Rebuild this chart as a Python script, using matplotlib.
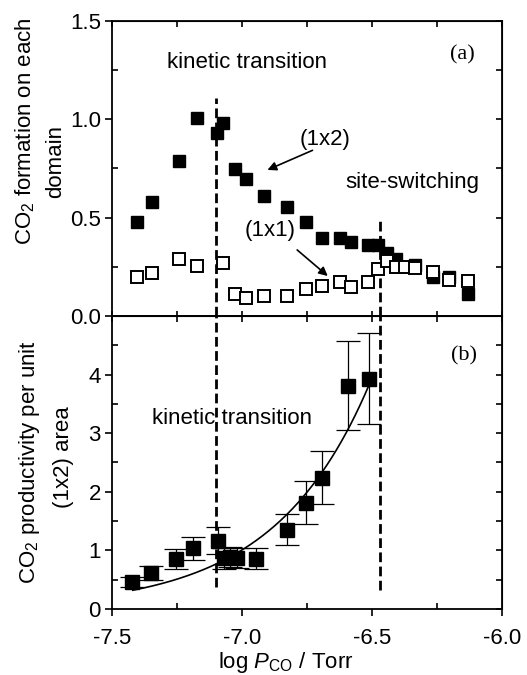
import numpy as np
import matplotlib
matplotlib.use("Agg")
import matplotlib.pyplot as plt

plt.rcParams['font.family'] = ['Liberation Sans', 'DejaVu Sans']
plt.rcParams['mathtext.fontset'] = 'custom'
plt.rcParams['mathtext.rm'] = 'Liberation Sans'
plt.rcParams['mathtext.it'] = 'Liberation Sans:italic'
plt.rcParams['font.size'] = 16
plt.rcParams['axes.unicode_minus'] = False

# panel (a): CO2 formation on each domain
log_p_a = [-7.403, -7.347, -7.242, -7.174, -7.095, -7.074, -7.027, -6.985, -6.914, -6.828, -6.754,
           -6.692, -6.623, -6.581, -6.514, -6.476, -6.443, -6.408, -6.335, -6.264, -6.203, -6.130]
form_1x2 = [0.48, 0.58, 0.79, 1.005, 0.93, 0.98, 0.747, 0.697, 0.61, 0.553, 0.48,
            0.398, 0.398, 0.375, 0.361, 0.361, 0.32, 0.288, 0.26, 0.20, 0.197, 0.11]
log_p_a_open = [-7.403, -7.347, -7.242, -7.174, -7.074, -7.027, -6.985, -6.914, -6.828, -6.754, -6.692,
                -6.623, -6.581, -6.514, -6.476, -6.443, -6.408, -6.373, -6.335, -6.264, -6.203, -6.130]
form_1x1 = [0.20, 0.22, 0.288, 0.256, 0.268, 0.11, 0.093, 0.10, 0.10, 0.139, 0.154,
            0.174, 0.146, 0.174, 0.239, 0.28, 0.25, 0.25, 0.243, 0.225, 0.183, 0.178]

# panel (b): CO2 productivity per unit (1x2) area
log_p_b = [-7.424, -7.351, -7.255, -7.190, -7.091, -7.068, -7.046, -7.018, -6.946,
           -6.826, -6.754, -6.693, -6.593, -6.512]
prod = [0.465, 0.607, 0.846, 1.033, 1.163, 0.862, 0.88, 0.87, 0.86,
        1.356, 1.816, 2.24, 3.81, 3.93]
prod_err = [0.085, 0.12, 0.17, 0.20, 0.23, 0.18, 0.17, 0.17, 0.18,
            0.27, 0.37, 0.45, 0.76, 0.78]

# exponential fit drawn in (b): y = fit_a * exp(fit_b * (x - fit_x0))
fit_x0, fit_a, fit_b = -7.42, 0.32, 2.73
fit_range = (-7.42, -6.51)

kinetic_x = -7.1
switch_x = -6.47


def style_axes(ax, yminor, ymajor, inout_bottom=False):
    ax.set_xlim(-7.5, -6.0)
    ax.set_xticks([-7.5, -7.0, -6.5, -6.0])
    ax.set_xticks(np.arange(-7.25, -6.0, 0.5), minor=True)
    ax.tick_params(which='major', direction='out', length=5, width=1.2)
    ax.tick_params(which='minor', direction='in', length=4, width=1.2)
    ax.tick_params(axis='y', which='major', pad=3)
    ax.tick_params(axis='x', which='major', pad=9)
    if inout_bottom:
        ax.tick_params(axis='x', which='both', direction='inout', length=7)
    for s in ax.spines.values():
        s.set_linewidth(1.3)
    sy = ax.secondary_yaxis('right')
    sy.set_yticks(np.arange(0, ymajor + 1e-9, yminor))
    sy.tick_params(direction='in', length=4, width=1.2, labelright=False)
    sx = ax.secondary_xaxis('top')
    sx.set_xticks(np.arange(-7.5, -5.99, 0.25))
    sx.tick_params(direction='in', length=4, width=1.2, labeltop=False)


fig = plt.figure(figsize=(5.27, 6.75), dpi=100)
ax1 = fig.add_axes([0.2125, 0.5319, 0.7401, 0.4370])
ax2 = fig.add_axes([0.2125, 0.0978, 0.7401, 0.4341])

# ---- panel (a)
ax1.set_ylim(0, 1.5)
ax1.set_yticks([0, 0.5, 1.0, 1.5])
ax1.set_yticks([0.25, 0.75, 1.25], minor=True)
ax1.set_yticklabels(['0.0', '0.5', '1.0', '1.5'])
style_axes(ax1, 0.25, 1.5, inout_bottom=True)
ax1.tick_params(axis='x', labelbottom=False)

ax1.plot(log_p_a, form_1x2, 's', color='black', markersize=8.5, zorder=3)
ax1.plot(log_p_a_open, form_1x1, 's', mfc='white', mec='black', mew=1.4,
         markersize=8, zorder=4)
ax1.plot([kinetic_x, kinetic_x], [0, 1.11], color='black', lw=2, ls=(0, (3.5, 1.6)))
ax1.plot([switch_x, switch_x], [0, 0.49], color='black', lw=2, ls=(0, (3.5, 1.6)))

ax1.text(-6.98, 1.29, 'kinetic transition', ha='center', va='center')
ax1.text(-6.154, 1.327, '(a)', ha='center', va='center', family='Liberation Serif')
ax1.text(-6.681, 0.895, '(1x2)', ha='center', va='center')
ax1.text(-6.346, 0.68, 'site-switching', ha='center', va='center')
ax1.text(-6.892, 0.437, '(1x1)', ha='center', va='center')
ax1.annotate('', xy=(-6.912, 0.737), xytext=(-6.719, 0.848),
             arrowprops=dict(arrowstyle='-|>', color='black', lw=1.2, mutation_scale=13))
ax1.annotate('', xy=(-6.662, 0.194), xytext=(-6.796, 0.345),
             arrowprops=dict(arrowstyle='-|>', color='black', lw=1.2, mutation_scale=13))

# ---- panel (b)
ax2.set_ylim(0, 5)
ax2.set_yticks([0, 1, 2, 3, 4])
ax2.set_yticks([0.5, 1.5, 2.5, 3.5, 4.5], minor=True)
style_axes(ax2, 0.5, 5)

ax2.errorbar(log_p_b, prod, yerr=prod_err, fmt='s', color='black', markersize=10,
             ecolor='black', elinewidth=0.9, capsize=8.5, capthick=0.9, zorder=3)
xf = np.linspace(fit_range[0], fit_range[1], 200)
ax2.plot(xf, fit_a * np.exp(fit_b * (xf - fit_x0)), color='black', lw=1.2)
ax2.plot([kinetic_x, kinetic_x], [0.38, 5], color='black', lw=2, ls=(0, (3.5, 1.6)))
ax2.plot([switch_x, switch_x], [0.32, 5], color='black', lw=2, ls=(0, (3.5, 1.6)))
ax2.text(-7.04, 3.25, 'kinetic transition', ha='center', va='center')
ax2.text(-6.146, 4.32, '(b)', ha='center', va='center', family='Liberation Serif')

ax2.set_xlabel('log $P_{\\mathrm{CO}}$ / Torr')
ax2.xaxis.set_label_coords(0.446, -0.14)

# y labels (two lines each, placed in figure pixels)
W, H = 527, 675
fig.text(25 / W, 1 - 131 / H, 'CO$_2$ formation on each', rotation=90, ha='center', va='center')
fig.text(56 / W, 1 - 162 / H, 'domain', rotation=90, ha='center', va='center')
fig.text(30 / W, 1 - 462 / H, 'CO$_2$ productivity per unit', rotation=90, ha='center', va='center')
fig.text(63 / W, 1 - 457 / H, '(1x2) area', rotation=90, ha='center', va='center')

fig.savefig('out.png', dpi=100)
